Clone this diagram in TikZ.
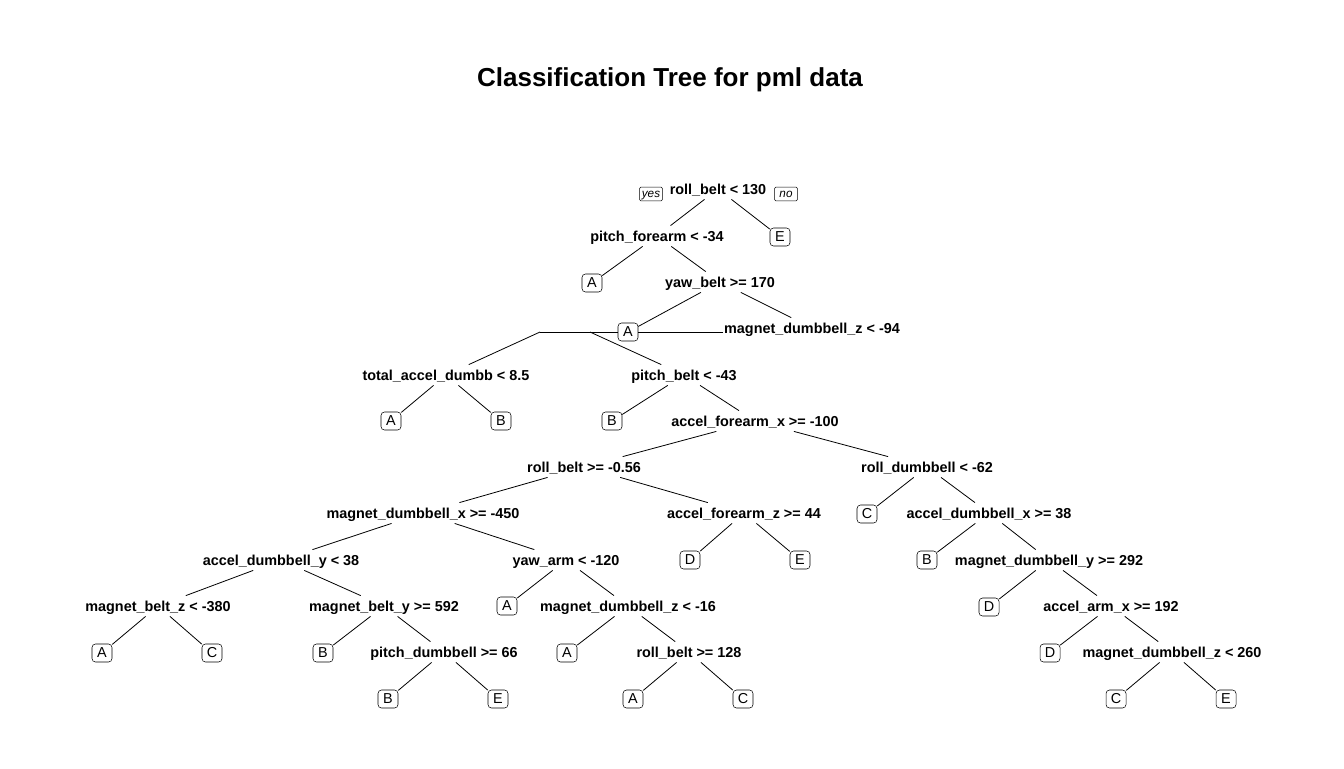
\documentclass[tikz,border=0pt]{standalone}
\usepackage{fontspec}
\setmainfont{Liberation Sans}
\usepackage{tikz}

\tikzset{
  splitnode/.style={rectangle, font=\bfseries\fontsize{10.8}{12}\selectfont, inner xsep=1pt, inner ysep=1.5pt, text height=10pt, text depth=2.2pt},
  leafnode/.style={rectangle, draw, rounded corners=2.6pt, fill=white, font=\fontsize{10.8}{12}\selectfont, minimum width=15pt, minimum height=13.5pt, inner sep=0pt},
  ynbox/.style={rectangle, draw, rounded corners=1pt, font=\itshape\fontsize{8.8}{10}\selectfont, minimum width=17pt, inner xsep=1pt, inner ysep=1pt, text height=6.6pt, text depth=1.8pt},
  branch/.style={line width=0.6pt}
}

\begin{document}
\begin{tikzpicture}[x=0.75pt, y=-0.75pt]
                    \fill[white] (0,0) rectangle (1344,768);
                    % Title
                    \node[font=\bfseries\fontsize{19.5}{22}\selectfont] (title) at (670,80) {Classification Tree for pml data};
                    % Split nodes
                    \node[splitnode] (rb130) at (718,189) {roll\_belt < 130};
                    \node[ynbox] (yes) at (651,194) {yes};
                    \node[ynbox] (no) at (786,194) {no};
                    \node[splitnode] (pf34) at (657,236) {pitch\_forearm < -34};
                    \node[splitnode] (yb170) at (720,282) {yaw\_belt >= 170};
                    \node[splitnode] (mdz94) at (812,328) {magnet\_dumbbell\_z < -94};
                    \node[splitnode] (tad85) at (446,375) {total\_accel\_dumbb < 8.5};
                    \node[splitnode] (pb43) at (684,375) {pitch\_belt < -43};
                    \node[splitnode] (afx100) at (755,421) {accel\_forearm\_x >= -100};
                    \node[splitnode] (rb056) at (584,467) {roll\_belt >= -0.56};
                    \node[splitnode] (rd62) at (927,467) {roll\_dumbbell < -62};
                    \node[splitnode] (mdx450) at (423,513) {magnet\_dumbbell\_x >= -450};
                    \node[splitnode] (afz44) at (744,513) {accel\_forearm\_z >= 44};
                    \node[splitnode] (adx38) at (989,513) {accel\_dumbbell\_x >= 38};
                    \node[splitnode] (ady38) at (281,560) {accel\_dumbbell\_y < 38};
                    \node[splitnode] (ya120) at (566,560) {yaw\_arm < -120};
                    \node[splitnode] (mdy292) at (1049,560) {magnet\_dumbbell\_y >= 292};
                    \node[splitnode] (mbz380) at (158,606) {magnet\_belt\_z < -380};
                    \node[splitnode] (mby592) at (384,606) {magnet\_belt\_y >= 592};
                    \node[splitnode] (mdz16) at (628,606) {magnet\_dumbbell\_z < -16};
                    \node[splitnode] (aax192) at (1111,606) {accel\_arm\_x >= 192};
                    \node[splitnode] (pd66) at (444,652) {pitch\_dumbbell >= 66};
                    \node[splitnode] (rb128) at (689,652) {roll\_belt >= 128};
                    \node[splitnode] (mdz260) at (1172,652) {magnet\_dumbbell\_z < 260};
                    % Leaves
                    \node[leafnode] (E1) at (780,237) {E};
                    \node[leafnode] (A1) at (592,283) {A};
                    \node[leafnode] (A2) at (628,332) {A};
                    \node[leafnode] (A3) at (391,421) {A};
                    \node[leafnode] (B1) at (501,421) {B};
                    \node[leafnode] (B2) at (612,421) {B};
                    \node[leafnode] (C1) at (867,514) {C};
                    \node[leafnode] (D1) at (690,560) {D};
                    \node[leafnode] (E2) at (800,560) {E};
                    \node[leafnode] (B3) at (927,560) {B};
                    \node[leafnode] (A4) at (507,606) {A};
                    \node[leafnode] (D2) at (989,607) {D};
                    \node[leafnode] (A5) at (102,653) {A};
                    \node[leafnode] (C2) at (212,653) {C};
                    \node[leafnode] (B4) at (323,653) {B};
                    \node[leafnode] (A6) at (567,653) {A};
                    \node[leafnode] (D3) at (1050,653) {D};
                    \node[leafnode] (B5) at (388,699) {B};
                    \node[leafnode] (E3) at (498,699) {E};
                    \node[leafnode] (A7) at (633,699) {A};
                    \node[leafnode] (C3) at (743,699) {C};
                    \node[leafnode] (C4) at (1116,699) {C};
                    \node[leafnode] (E4) at (1226,699) {E};
                    % Knee of the shifted label
                    \coordinate (mdzend) at (723,332);
                    \coordinate (mdzl) at (540,332);
                    \coordinate (mdzr) at (590,332);
                    % Edges
                    \draw[branch] (rb130) -- (pf34);
                    \draw[branch] (rb130) -- (E1);
                    \draw[branch] (pf34) -- (A1);
                    \draw[branch] (pf34) -- (yb170);
                    \draw[branch] (yb170) -- (A2);
                    \draw[branch] (yb170) -- (mdz94);
                    \draw[branch] (mdzend) -- (A2.east);
                    \draw[branch] (A2.west) -- (mdzl);
                    \draw[branch] (mdzl) -- (tad85);
                    \draw[branch] (mdzr) -- (pb43);
                    \draw[branch] (tad85) -- (A3);
                    \draw[branch] (tad85) -- (B1);
                    \draw[branch] (pb43) -- (B2);
                    \draw[branch] (pb43) -- (afx100);
                    \draw[branch] (afx100) -- (rb056);
                    \draw[branch] (afx100) -- (rd62);
                    \draw[branch] (rb056) -- (mdx450);
                    \draw[branch] (rb056) -- (afz44);
                    \draw[branch] (rd62) -- (C1);
                    \draw[branch] (rd62) -- (adx38);
                    \draw[branch] (mdx450) -- (ady38);
                    \draw[branch] (mdx450) -- (ya120);
                    \draw[branch] (afz44) -- (D1);
                    \draw[branch] (afz44) -- (E2);
                    \draw[branch] (adx38) -- (B3);
                    \draw[branch] (adx38) -- (mdy292);
                    \draw[branch] (ady38) -- (mbz380);
                    \draw[branch] (ady38) -- (mby592);
                    \draw[branch] (ya120) -- (A4);
                    \draw[branch] (ya120) -- (mdz16);
                    \draw[branch] (mdy292) -- (D2);
                    \draw[branch] (mdy292) -- (aax192);
                    \draw[branch] (mbz380) -- (A5);
                    \draw[branch] (mbz380) -- (C2);
                    \draw[branch] (mby592) -- (B4);
                    \draw[branch] (mby592) -- (pd66);
                    \draw[branch] (mdz16) -- (A6);
                    \draw[branch] (mdz16) -- (rb128);
                    \draw[branch] (aax192) -- (D3);
                    \draw[branch] (aax192) -- (mdz260);
                    \draw[branch] (pd66) -- (B5);
                    \draw[branch] (pd66) -- (E3);
                    \draw[branch] (rb128) -- (A7);
                    \draw[branch] (rb128) -- (C3);
                    \draw[branch] (mdz260) -- (C4);
                    \draw[branch] (mdz260) -- (E4);
                \end{tikzpicture}
\end{document}
